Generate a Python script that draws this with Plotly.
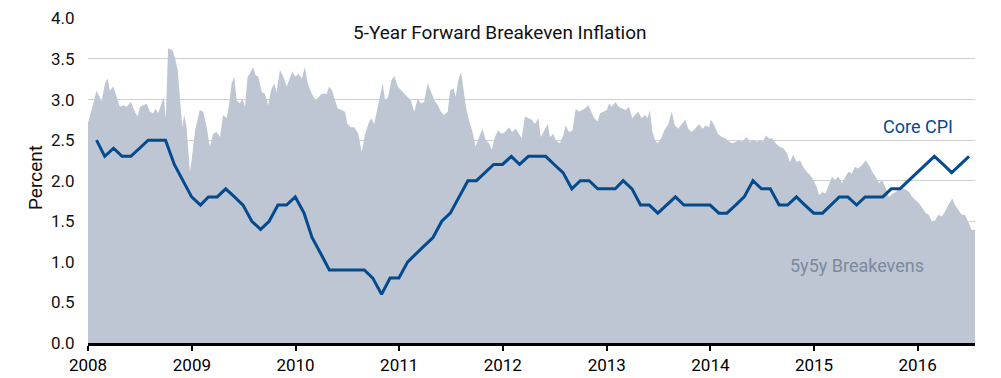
import pandas as pd
import plotly.graph_objects as go

# ---------------- data ----------------
# Core CPI, y/y %, month-end observations Jan 2008 - Jun 2016
cpi_start = "2008-01-31"
cpi_values = [
    2.5, 2.3, 2.4, 2.3, 2.3, 2.4, 2.5, 2.5, 2.5, 2.2, 2.0, 1.8,   # 2008
    1.7, 1.8, 1.8, 1.9, 1.8, 1.7, 1.5, 1.4, 1.5, 1.7, 1.7, 1.8,   # 2009
    1.6, 1.3, 1.1, 0.9, 0.9, 0.9, 0.9, 0.9, 0.8, 0.6, 0.8, 0.8,   # 2010
    1.0, 1.1, 1.2, 1.3, 1.5, 1.6, 1.8, 2.0, 2.0, 2.1, 2.2, 2.2,   # 2011
    2.3, 2.2, 2.3, 2.3, 2.3, 2.2, 2.1, 1.9, 2.0, 2.0, 1.9, 1.9,   # 2012
    1.9, 2.0, 1.9, 1.7, 1.7, 1.6, 1.7, 1.8, 1.7, 1.7, 1.7, 1.7,   # 2013
    1.6, 1.6, 1.7, 1.8, 2.0, 1.9, 1.9, 1.7, 1.7, 1.8, 1.7, 1.6,   # 2014
    1.6, 1.7, 1.8, 1.8, 1.7, 1.8, 1.8, 1.8, 1.9, 1.9, 2.0, 2.1,   # 2015
    2.2, 2.3, 2.2, 2.1, 2.2, 2.3,                                 # 2016
]
cpi_dates = pd.date_range(cpi_start, periods=len(cpi_values), freq="ME")

# 5y5y breakevens
be_dates = [
    "2008-01-01", "2008-01-08", "2008-01-18", "2008-01-31", "2008-02-12", "2008-02-18",
    "2008-03-01", "2008-03-10", "2008-03-18", "2008-03-30", "2008-04-11", "2008-04-22",
    "2008-05-04", "2008-05-16", "2008-05-31", "2008-06-14", "2008-06-24", "2008-07-02",
    "2008-07-14", "2008-07-26", "2008-08-06", "2008-08-18", "2008-08-26", "2008-09-04",
    "2008-09-16", "2008-09-24", "2008-10-01", "2008-10-09", "2008-10-24", "2008-11-02",
    "2008-11-12", "2008-11-20", "2008-11-28", "2008-12-05", "2008-12-13", "2008-12-25",
    "2008-12-31", "2009-01-12", "2009-01-29", "2009-02-10", "2009-02-22", "2009-03-05",
    "2009-03-17", "2009-03-29", "2009-04-10", "2009-04-21", "2009-05-03", "2009-05-11",
    "2009-05-21", "2009-05-30", "2009-06-07", "2009-06-19", "2009-06-27", "2009-07-07",
    "2009-07-16", "2009-07-24", "2009-08-05", "2009-08-13", "2009-08-23", "2009-09-04",
    "2009-09-15", "2009-09-27", "2009-10-06", "2009-10-18", "2009-10-26", "2009-11-07",
    "2009-11-19", "2009-12-01", "2009-12-12", "2009-12-20", "2010-01-01", "2010-01-11",
    "2010-01-23", "2010-02-03", "2010-02-13", "2010-02-27", "2010-03-13", "2010-03-22",
    "2010-04-03", "2010-04-21", "2010-04-29", "2010-05-10", "2010-05-20", "2010-05-29",
    "2010-06-12", "2010-06-24", "2010-07-03", "2010-07-15", "2010-07-27", "2010-08-10",
    "2010-08-22", "2010-09-02", "2010-09-14", "2010-09-24", "2010-10-05", "2010-10-17",
    "2010-10-29", "2010-11-04", "2010-11-12", "2010-11-23", "2010-12-05", "2010-12-15",
    "2010-12-27", "2011-01-07", "2011-01-19", "2011-01-31", "2011-02-11", "2011-02-23",
    "2011-03-07", "2011-03-19", "2011-03-30", "2011-04-11", "2011-04-23", "2011-05-05",
    "2011-05-17", "2011-05-28", "2011-06-09", "2011-06-21", "2011-06-29", "2011-07-11",
    "2011-07-19", "2011-07-28", "2011-08-07", "2011-08-15", "2011-08-24", "2011-09-04",
    "2011-09-15", "2011-09-27", "2011-10-09", "2011-10-21", "2011-11-02", "2011-11-13",
    "2011-11-23", "2011-12-04", "2011-12-16", "2011-12-28", "2012-01-09", "2012-01-23",
    "2012-02-03", "2012-02-15", "2012-02-27", "2012-03-07", "2012-03-19", "2012-03-31",
    "2012-04-12", "2012-04-23", "2012-05-05", "2012-05-14", "2012-05-26", "2012-06-07",
    "2012-06-15", "2012-06-27", "2012-07-05", "2012-07-20", "2012-08-01", "2012-08-09",
    "2012-08-21", "2012-09-02", "2012-09-14", "2012-09-25", "2012-10-05", "2012-10-16",
    "2012-10-28", "2012-11-06", "2012-11-18", "2012-11-30", "2012-12-08", "2012-12-20",
    "2013-01-01", "2013-01-09", "2013-01-18", "2013-02-01", "2013-02-12", "2013-02-24",
    "2013-03-08", "2013-03-20", "2013-04-01", "2013-04-10", "2013-04-22", "2013-05-04",
    "2013-05-16", "2013-05-25", "2013-06-02", "2013-06-10", "2013-06-20", "2013-06-29",
    "2013-07-11", "2013-07-23", "2013-08-06", "2013-08-18", "2013-08-29", "2013-09-10",
    "2013-09-22", "2013-10-04", "2013-10-15", "2013-10-27", "2013-11-08", "2013-11-22",
    "2013-12-04", "2013-12-16", "2013-12-27", "2014-01-03", "2014-01-15", "2014-01-27",
    "2014-02-10", "2014-02-24", "2014-03-08", "2014-03-19", "2014-03-31", "2014-04-12",
    "2014-04-23", "2014-05-09", "2014-05-20", "2014-06-01", "2014-06-13", "2014-06-25",
    "2014-07-06", "2014-07-15", "2014-07-26", "2014-08-07", "2014-08-19", "2014-08-31",
    "2014-09-15", "2014-09-27", "2014-10-08", "2014-10-20", "2014-11-01", "2014-11-13",
    "2014-11-24", "2014-12-06", "2014-12-18", "2014-12-30", "2015-01-11", "2015-01-19",
    "2015-01-30", "2015-02-11", "2015-02-23", "2015-03-06", "2015-03-16", "2015-03-28",
    "2015-04-09", "2015-04-20", "2015-05-02", "2015-05-14", "2015-05-25", "2015-06-06",
    "2015-06-18", "2015-07-02", "2015-07-14", "2015-07-25", "2015-08-06", "2015-08-18",
    "2015-08-29", "2015-09-10", "2015-09-22", "2015-10-04", "2015-10-16", "2015-10-27",
    "2015-11-08", "2015-11-20", "2015-12-02", "2015-12-13", "2015-12-25", "2016-01-06",
    "2016-01-18", "2016-01-30", "2016-02-10", "2016-02-20", "2016-03-02", "2016-03-14",
    "2016-03-26", "2016-04-07", "2016-04-18", "2016-05-02", "2016-05-12", "2016-05-23",
    "2016-06-04", "2016-06-16", "2016-06-28", "2016-07-10", "2016-07-21",
]
be_values = [
    2.71, 2.79, 2.93, 3.11, 3.01, 2.98,
    3.20, 3.26, 3.11, 3.16, 3.03, 2.91,
    2.93, 2.91, 2.97, 2.85, 2.79, 2.91,
    2.93, 2.95, 2.85, 2.83, 2.89, 2.83,
    2.95, 3.03, 2.76, 3.63, 3.61, 3.52,
    3.36, 3.03, 2.66, 2.81, 2.66, 2.11,
    2.25, 2.62, 2.87, 2.85, 2.66, 2.42,
    2.58, 2.60, 2.54, 2.81, 2.77, 2.91,
    3.20, 3.28, 2.99, 2.95, 3.02, 2.91,
    3.28, 3.32, 3.40, 3.30, 3.28, 3.09,
    3.07, 2.93, 3.11, 3.20, 3.09, 3.36,
    3.28, 3.16, 3.28, 3.34, 3.28, 3.32,
    3.26, 3.40, 3.20, 3.07, 2.99, 3.03,
    3.07, 3.07, 3.16, 3.11, 2.99, 2.89,
    2.87, 2.85, 2.70, 2.66, 2.66, 2.58,
    2.35, 2.56, 2.70, 2.77, 2.70, 2.91,
    3.09, 3.20, 2.99, 3.03, 3.24, 3.29,
    3.16, 3.11, 3.07, 3.03, 2.99, 2.85,
    3.01, 2.95, 2.97, 3.20, 3.09, 2.99,
    2.93, 2.85, 2.81, 2.85, 3.11, 3.14,
    3.03, 3.24, 3.34, 3.11, 2.91, 2.74,
    2.62, 2.42, 2.54, 2.64, 2.50, 2.46,
    2.38, 2.54, 2.62, 2.58, 2.60, 2.66,
    2.60, 2.64, 2.58, 2.52, 2.79, 2.77,
    2.75, 2.70, 2.77, 2.54, 2.62, 2.70,
    2.54, 2.58, 2.50, 2.46, 2.56, 2.68,
    2.60, 2.62, 2.89, 2.85, 2.87, 2.89,
    2.93, 2.87, 2.77, 2.73, 2.83, 2.85,
    2.87, 2.95, 2.91, 2.97, 2.91, 2.89,
    2.87, 2.91, 2.77, 2.81, 2.85, 2.77,
    2.81, 2.77, 2.87, 2.62, 2.50, 2.46,
    2.52, 2.62, 2.70, 2.85, 2.68, 2.64,
    2.70, 2.75, 2.64, 2.60, 2.64, 2.70,
    2.64, 2.68, 2.66, 2.75, 2.68, 2.58,
    2.54, 2.52, 2.48, 2.46, 2.48, 2.50,
    2.48, 2.54, 2.48, 2.50, 2.48, 2.50,
    2.48, 2.56, 2.52, 2.52, 2.46, 2.42,
    2.40, 2.34, 2.23, 2.32, 2.23, 2.25,
    2.17, 2.11, 2.07, 2.01, 1.92, 1.82,
    1.86, 1.84, 1.96, 2.05, 2.01, 2.05,
    1.97, 2.03, 2.11, 2.09, 2.17, 2.15,
    2.19, 2.25, 2.19, 2.11, 2.05, 1.97,
    2.01, 1.91, 1.80, 1.84, 1.86, 1.91,
    1.91, 1.89, 1.86, 1.80, 1.76, 1.72,
    1.66, 1.60, 1.58, 1.49, 1.51, 1.58,
    1.56, 1.62, 1.70, 1.78, 1.70, 1.64,
    1.58, 1.58, 1.49, 1.39, 1.40,
]

year_ticks = ["2008", "2009", "2010", "2011", "2012", "2013", "2014", "2015", "2016"]
y_ticks = [0.0, 0.5, 1.0, 1.5, 2.0, 2.5, 3.0, 3.5, 4.0]

title_text = "5-Year Forward Breakeven Inflation"
cpi_label = "Core CPI"
be_label = "5y5y Breakevens"
y_title = "Percent"

# ---------------- styles ----------------
FONT = "Roboto, sans-serif"
AREA_COLOR = "#bdc6d2"
LINE_COLOR = "#044a8e"
BE_TEXT_COLOR = "#7a8aa0"

fig = go.Figure()
fig.add_trace(go.Scatter(
    x=be_dates, y=be_values, mode="lines", fill="tozeroy",
    fillcolor=AREA_COLOR, line=dict(width=0, color=AREA_COLOR),
    hoverinfo="skip", showlegend=False,
))
fig.add_trace(go.Scatter(
    x=cpi_dates, y=cpi_values, mode="lines",
    line=dict(width=3, color=LINE_COLOR),
    showlegend=False,
))

# page body has an 8px default margin: offset the figure accordingly
fig.update_layout(
    width=993, height=370,
    margin=dict(l=80, r=26, t=10, b=35),
    paper_bgcolor="white", plot_bgcolor="white",
    font=dict(family=FONT, color="#111111", size=17),
    xaxis=dict(
        type="date",
        range=["2008-01-01", "2016-07-21"],
        tickvals=[f"{y}-01-01" for y in year_ticks],
        ticktext=year_ticks,
        ticks="outside", ticklen=5, tickwidth=2, tickcolor="black",
        showline=True, linecolor="black", linewidth=2.5,
        showgrid=False, zeroline=False, automargin=False,
        ticklabeloverflow="allow",
        tickfont=dict(size=17, color="black", family=FONT),
    ),
    yaxis=dict(
        range=[0, 4.005],
        tickvals=y_ticks,
        ticktext=[f"{v:.1f}" for v in y_ticks],
        ticks="outside", ticklen=9, tickcolor="rgba(0,0,0,0)",
        showgrid=True, gridcolor="#cfcfcf", gridwidth=1,
        zeroline=False, showline=False, automargin=False,
        ticklabeloverflow="allow",
        tickfont=dict(size=17, color="#111111", family=FONT),
    ),
    annotations=[
        dict(text=title_text, xref="paper", yref="y", x=(500 - 88) / 887, y=3.83,
             showarrow=False, xanchor="center", yanchor="middle",
             font=dict(size=19, color="#111111", family=FONT)),
        dict(text=cpi_label, xref="x", yref="y", x="2016-01-01", y=2.67,
             showarrow=False, xanchor="center", yanchor="middle",
             font=dict(size=18, color=LINE_COLOR, family=FONT)),
        dict(text=be_label, xref="x", yref="y", x="2015-06-01", y=0.96,
             showarrow=False, xanchor="center", yanchor="middle",
             font=dict(size=18, color=BE_TEXT_COLOR, family=FONT)),
        dict(text=y_title, xref="paper", yref="paper", x=(35 - 88) / 887, y=(343 - 178) / 325,
             showarrow=False, xanchor="center", yanchor="middle", textangle=-90,
             font=dict(size=19, color="#111111", family=FONT)),
    ],
)

fig.write_html("out.html")
